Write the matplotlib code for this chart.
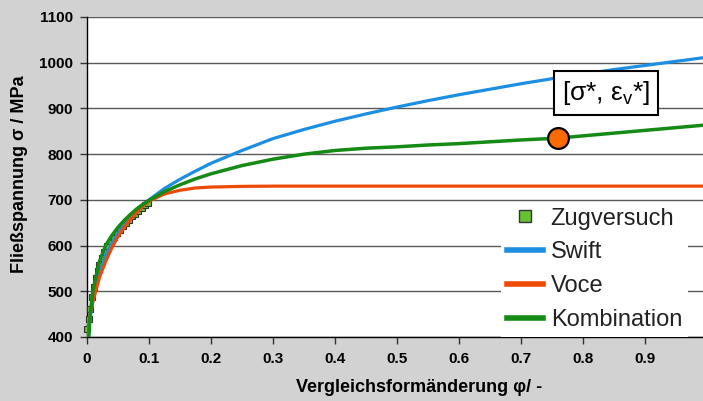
import matplotlib
matplotlib.use("Agg")
import matplotlib.pyplot as plt
from matplotlib.lines import Line2D

plt.rcParams['font.family'] = ['Liberation Sans', 'DejaVu Sans']
plt.rcParams['mathtext.fontset'] = 'custom'
plt.rcParams['mathtext.rm'] = 'Liberation Sans'

# Zugversuch (tensile test data)
phi_test = [0.000, 0.003, 0.005, 0.008, 0.011, 0.014, 0.017, 0.020, 0.024, 0.028,
            0.033, 0.038, 0.043, 0.048, 0.053, 0.058, 0.063, 0.068, 0.073, 0.078,
            0.083, 0.088, 0.093, 0.098]
sigma_test = [418, 440, 462, 488, 510, 528, 545, 558, 572, 585,
              598, 609, 618, 627, 635, 643, 650, 657, 664, 670,
              676, 682, 688, 694]

# Swift extrapolation
phi_swift = [0.0, 0.002, 0.005, 0.01, 0.02, 0.03, 0.04, 0.05, 0.06, 0.07, 0.08, 0.09,
             0.1, 0.125, 0.15, 0.175, 0.2, 0.25, 0.3, 0.35, 0.4, 0.45, 0.5, 0.55,
             0.6, 0.65, 0.7, 0.75, 0.8, 0.85, 0.9, 0.95, 1.0]
sigma_swift = [385, 400, 440, 485, 540, 578, 605, 627, 645, 662, 676, 689,
               700, 725, 745, 763, 780, 808, 834, 854, 872, 888, 903, 917,
               930, 942, 954, 965, 975, 985, 994, 1003, 1012]

# Voce extrapolation
phi_voce = [0.0, 0.005, 0.01, 0.02, 0.03, 0.04, 0.05, 0.06, 0.07, 0.08, 0.09,
            0.1, 0.125, 0.15, 0.175, 0.2, 0.25, 0.3, 0.4, 0.5, 0.6, 0.7, 0.8, 0.9, 1.0]
sigma_voce = [415, 450, 480, 530, 565, 595, 620, 640, 657, 672, 686,
              697, 713, 721, 726, 728, 729.5, 730, 730, 730, 730, 730, 730, 730, 730]

# Kombination
phi_komb = [0.003, 0.005, 0.01, 0.02, 0.03, 0.04, 0.05, 0.06, 0.07, 0.08, 0.09,
            0.1, 0.125, 0.15, 0.175, 0.2, 0.25, 0.3, 0.35, 0.4, 0.45, 0.5, 0.55,
            0.6, 0.65, 0.7, 0.76, 0.8, 0.85, 0.9, 0.95, 1.0]
sigma_komb = [400, 450, 505, 565, 600, 622, 640, 655, 668, 680, 690,
              699, 718, 733, 746, 757, 775, 789, 800, 808, 813, 816, 820,
              823, 827, 831, 835, 840, 846, 852, 858, 864]

# characteristic point [sigma*, eps_v*]
phi_star = 0.76
sigma_star = 835

x_ticks = [0, 0.1, 0.2, 0.3, 0.4, 0.5, 0.6, 0.7, 0.8, 0.9, 1.0]
x_tick_labels = ['0', '0.1', '0.2', '0.3', '0.4', '0.5', '0.6', '0.7', '0.8', '0.9', '1']
y_ticks = [400, 500, 600, 700, 800, 900, 1000, 1100]

c_swift = '#1c8fe3'
c_voce = '#ee4a05'
c_komb = '#158a15'
c_test = '#66c234'

fig = plt.figure(figsize=(7.03, 4.01), dpi=100, facecolor='#d2d2d2')
ax = fig.add_axes([87 / 703, 64 / 401, 620 / 703, 320 / 401])
ax.set_facecolor('white')

ax.set_xlim(0, 1.0)
ax.set_ylim(400, 1100)
ax.set_xticks(x_ticks)
ax.set_xticklabels(x_tick_labels)
ax.set_yticks(y_ticks)
ax.grid(axis='y', color='#5a5a5a', lw=1.0)
ax.set_axisbelow(True)

for s in ('top', 'right'):
    ax.spines[s].set_visible(False)
for s in ('left', 'bottom'):
    ax.spines[s].set_color('black')
    ax.spines[s].set_linewidth(1.0)

ax.tick_params(axis='both', direction='out', length=5, width=1, color='#333333',
               labelsize=11)
ax.tick_params(axis='x', pad=6)
ax.tick_params(axis='y', pad=5)
for lab in ax.get_xticklabels() + ax.get_yticklabels():
    lab.set_fontweight('bold')

ax.plot(phi_test, sigma_test, ls='none', marker='s', ms=3.8, mfc=c_test,
        mec='#333333', mew=0.8, clip_on=False, zorder=3)
ax.plot(phi_swift, sigma_swift, color=c_swift, lw=2.3, zorder=4)
ax.plot(phi_voce, sigma_voce, color=c_voce, lw=2.3, zorder=4)
ax.plot(phi_komb, sigma_komb, color=c_komb, lw=2.5, zorder=5)

ax.plot([phi_star], [sigma_star], marker='o', ms=15, mfc='#ff6a00', mec='black',
        mew=1.6, zorder=6)
ax.annotate(r'[σ*, ε$_\mathregular{v}$*]', xy=(phi_star, sigma_star),
            xytext=(48, 45), textcoords='offset pixels', ha='center', va='center',
            fontsize=19, color='black',
            bbox=dict(boxstyle='square,pad=0.3', fc='white', ec='black', lw=1.5),
            zorder=7)

handles = [
    Line2D([], [], ls='none', marker='s', ms=9, mfc=c_test, mec='#333333', mew=1),
    Line2D([], [], color=c_swift, lw=4),
    Line2D([], [], color=c_voce, lw=4),
    Line2D([], [], color=c_komb, lw=4),
]
leg = ax.legend(handles, ['Zugversuch', 'Swift', 'Voce', 'Kombination'],
                loc='lower right', bbox_to_anchor=(601 / 620, 0.0),
                frameon=True, fancybox=False, framealpha=1, fontsize=17,
                handlelength=1.5, handletextpad=0.34, labelspacing=0.5,
                borderpad=0.25, borderaxespad=0.0)
leg.get_frame().set_edgecolor('white')
leg.get_frame().set_facecolor('white')
leg.get_frame().set_linewidth(0)
for t in leg.get_texts():
    t.set_color('#222222')
leg.set_zorder(8)

fig.text(20 / 703, 1 - 174 / 401, 'Fließspannung σ / MPa', fontsize=13,
         fontweight='bold', rotation=90, ha='center', va='center')
fig.text(419 / 703, 1 - 388 / 401, 'Vergleichsformänderung φ/ -', fontsize=13,
         fontweight='bold', ha='center', va='center')

fig.savefig('out.png', dpi=100, facecolor=fig.get_facecolor())
